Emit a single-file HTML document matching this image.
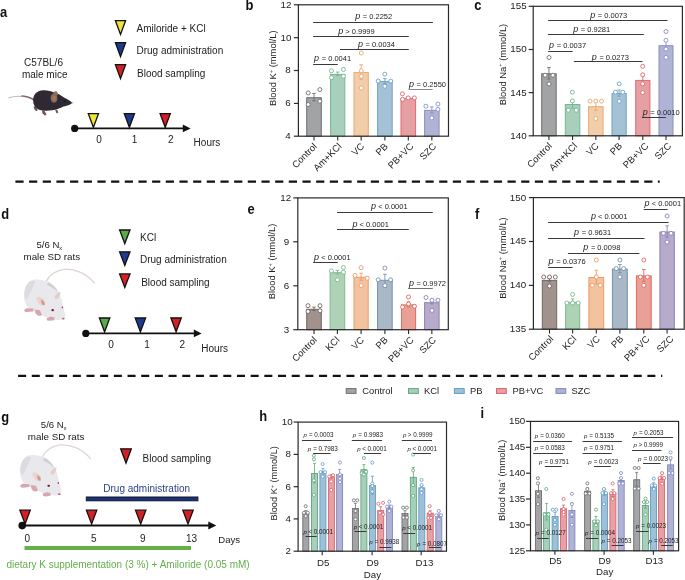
<!DOCTYPE html>
<html><head><meta charset="utf-8"><style>
html,body{margin:0;padding:0;background:#fff;}
body{width:685px;height:580px;overflow:hidden;font-family:"Liberation Sans", sans-serif;}
svg{display:block;will-change:transform;}
</style></head><body>
<svg width="685" height="580" viewBox="0 0 685 580" font-family='"Liberation Sans", sans-serif'>
<rect width="685" height="580" fill="#fff"/>
<line x1="15.4" y1="181.7" x2="662" y2="181.7" stroke="#111" stroke-width="2.3" stroke-dasharray="8.2 5.47"/>
<rect x="659.7" y="176" width="10" height="10" fill="#fff"/>
<line x1="18.1" y1="375.9" x2="665" y2="375.9" stroke="#111" stroke-width="2.3" stroke-dasharray="8.0 5.68"/>
<rect x="662.3" y="370" width="10" height="10" fill="#fff"/>
<text transform="translate(0.1,17.0) scale(0.93,1)" font-size="13.9" font-weight="bold" fill="#111">a</text>
<text x="43.5" y="66.3" font-size="10" text-anchor="middle" fill="#222">C57BL/6</text>
<text x="44.7" y="77.8" font-size="10" text-anchor="middle" fill="#222">male mice</text>
<path d="M115.40,20.60 L125.60,20.60 L120.50,34.40 Z" fill="#f1e43a" stroke="#111" stroke-width="1.3" stroke-linejoin="miter"/>
<path d="M115.40,42.70 L125.60,42.70 L120.50,56.50 Z" fill="#1e3a8c" stroke="#111" stroke-width="1.3" stroke-linejoin="miter"/>
<path d="M115.40,64.70 L125.60,64.70 L120.50,78.50 Z" fill="#d31f26" stroke="#111" stroke-width="1.3" stroke-linejoin="miter"/>
<text x="136.5" y="31.6" font-size="10" fill="#222">Amiloride + KCl</text>
<text x="136.5" y="54.3" font-size="10" fill="#222">Drug administration</text>
<text x="137" y="76.8" font-size="10" fill="#222">Blood sampling</text>
<line x1="74.7" y1="128.4" x2="185" y2="128.4" stroke="#111" stroke-width="1.6"/>
<path d="M182.8,124.6 L190.6,128.4 L182.8,132.2 Z" fill="#111"/>
<circle cx="74.7" cy="128.4" r="3.6" fill="#111"/>
<path d="M88.30,113.70 L98.50,113.70 L93.40,127.30 Z" fill="#f1e43a" stroke="#111" stroke-width="1.3" stroke-linejoin="miter"/>
<path d="M124.30,113.70 L134.50,113.70 L129.40,127.30 Z" fill="#1e3a8c" stroke="#111" stroke-width="1.3" stroke-linejoin="miter"/>
<path d="M160.10,113.70 L170.30,113.70 L165.20,127.30 Z" fill="#d31f26" stroke="#111" stroke-width="1.3" stroke-linejoin="miter"/>
<text x="99" y="142.9" font-size="10" text-anchor="middle" fill="#222">0</text>
<text x="134.6" y="142.9" font-size="10" text-anchor="middle" fill="#222">1</text>
<text x="170.7" y="142.9" font-size="10" text-anchor="middle" fill="#222">2</text>
<text x="193.6" y="145.9" font-size="10" fill="#222">Hours</text>
<g>
<path d="M9,97.8 C16,95.6 24,95.4 33.5,99.6" stroke="#bdb3b3" stroke-width="1.1" fill="none" stroke-linecap="round"/>
<path d="M22,95.9 C27,96.2 30.5,97.4 34,100" stroke="#7c6264" stroke-width="1.3" fill="none" stroke-linecap="round"/>
<path d="M33.6,106.6 L35.6,106.2 L37.8,110.2 L36.2,111.2 L34.2,109 Z" fill="#6f5154"/>
<path d="M42,111 L44.2,110.6 L46.6,114.4 L45,115.4 L42.6,113.6 Z" fill="#6f5154"/>
<path d="M55.2,110 L57.2,109.8 L58.4,112.6 L56.6,113.4 Z" fill="#6f5154"/>
<path d="M33.1,100.5 C33,94 37.5,90.6 43,90.3 C47.5,90.1 51.5,91.3 54.5,92.6 C58,93.6 61,95.4 64,97.6 C67.5,99.4 70,100.8 72.2,102.4 C71.5,104.2 68,105.6 63.5,106.4 C60,108 57,109.6 52,110.3 C47.5,111 42,111 38,109.2 C34.6,107.4 33.2,104.2 33.1,100.5 Z" fill="#2e2933"/>
<path d="M50.6,98 C50.6,94.8 52.2,93.2 54.2,93.4 C56.4,93.8 57.6,96 57.4,99 C57.2,101.2 55.6,102.9 53.8,102.8 C51.8,102.6 50.6,100.6 50.6,98 Z" fill="#8b6a58"/>
<path d="M53.2,93.4 C53.4,91.8 54.8,90.9 56.2,91.3 C57.6,91.8 58.1,93.4 57.7,95.2 C56.6,95.6 54.6,95 53.2,93.4 Z" fill="#927060"/>
<path d="M52.4,97.5 C53,96 54.6,95.6 55.8,96.6 C56.2,98.6 55.4,100.6 54,100.8 C52.8,100.4 52.3,99 52.4,97.5 Z" fill="#9c7a66"/>
<circle cx="64.6" cy="101.3" r="0.8" fill="#0e0c10"/>
<circle cx="71.8" cy="102.8" r="0.7" fill="#8a6a6a"/>
<path d="M72,103 L74,102.2 M72,103.3 L73.8,104.3" stroke="#c8c8c8" stroke-width="0.4"/>
</g>
<text transform="translate(245.4,9.5) scale(0.93,1)" font-size="13.9" font-weight="bold" fill="#111">b</text>
<rect x="306.70" y="97.70" width="14.60" height="38.50" fill="#a1a3a4" stroke="#6d6f70" stroke-width="1.0"/>
<path d="M314.0,93.4 V100.8 M312.2,93.4 H315.8 M312.2,100.8 H315.8" stroke="#6d6f70" stroke-width="0.9" fill="none"/>
<circle cx="308.2" cy="92.9" r="2.0" fill="#fff" stroke="#6d6f70" stroke-width="0.9"/>
<circle cx="319.9" cy="89.6" r="2.0" fill="#fff" stroke="#6d6f70" stroke-width="0.9"/>
<circle cx="319.9" cy="101.2" r="2.0" fill="#fff" stroke="#6d6f70" stroke-width="0.9"/>
<circle cx="308.2" cy="104.5" r="2.0" fill="#fff" stroke="#6d6f70" stroke-width="0.9"/>
<rect x="330.60" y="74.40" width="14.20" height="61.80" fill="#a7cfbc" stroke="#74b795" stroke-width="1.0"/>
<path d="M337.70000000000005,72.1 V75.7 M335.90000000000003,72.1 H339.50000000000006 M335.90000000000003,75.7 H339.50000000000006" stroke="#74b795" stroke-width="0.9" fill="none"/>
<circle cx="331.4" cy="70.8" r="2.0" fill="#fff" stroke="#74b795" stroke-width="0.9"/>
<circle cx="343.4" cy="69.4" r="2.0" fill="#fff" stroke="#74b795" stroke-width="0.9"/>
<circle cx="331.4" cy="77.6" r="2.0" fill="#fff" stroke="#74b795" stroke-width="0.9"/>
<circle cx="343.4" cy="76.3" r="2.0" fill="#fff" stroke="#74b795" stroke-width="0.9"/>
<rect x="354.00" y="72.60" width="14.30" height="63.60" fill="#f1cdaa" stroke="#eda86f" stroke-width="1.0"/>
<path d="M361.15,64.8 V79.4 M359.34999999999997,64.8 H362.95 M359.34999999999997,79.4 H362.95" stroke="#eda86f" stroke-width="0.9" fill="none"/>
<circle cx="361.3" cy="53.0" r="2.0" fill="#fff" stroke="#eda86f" stroke-width="0.9"/>
<circle cx="361.3" cy="70.8" r="2.0" fill="#fff" stroke="#eda86f" stroke-width="0.9"/>
<circle cx="361.3" cy="76.3" r="2.0" fill="#fff" stroke="#eda86f" stroke-width="0.9"/>
<circle cx="361.3" cy="88.0" r="2.0" fill="#fff" stroke="#eda86f" stroke-width="0.9"/>
<rect x="377.60" y="81.60" width="14.60" height="54.60" fill="#a3c2d6" stroke="#6fa2c4" stroke-width="1.0"/>
<path d="M384.9,78.6 V83.6 M383.09999999999997,78.6 H386.7 M383.09999999999997,83.6 H386.7" stroke="#6fa2c4" stroke-width="0.9" fill="none"/>
<circle cx="384.8" cy="74.2" r="2.0" fill="#fff" stroke="#6fa2c4" stroke-width="0.9"/>
<circle cx="378.2" cy="81.1" r="2.0" fill="#fff" stroke="#6fa2c4" stroke-width="0.9"/>
<circle cx="390.8" cy="81.1" r="2.0" fill="#fff" stroke="#6fa2c4" stroke-width="0.9"/>
<circle cx="384.8" cy="86.2" r="2.0" fill="#fff" stroke="#6fa2c4" stroke-width="0.9"/>
<rect x="401.00" y="98.40" width="14.60" height="37.80" fill="#e69fa3" stroke="#de6a70" stroke-width="1.0"/>
<path d="M408.3,96.9 V98.9 M406.5,96.9 H410.1 M406.5,98.9 H410.1" stroke="#de6a70" stroke-width="0.9" fill="none"/>
<circle cx="402.4" cy="93.8" r="2.0" fill="#fff" stroke="#de6a70" stroke-width="0.9"/>
<circle cx="402.6" cy="99.3" r="2.0" fill="#fff" stroke="#de6a70" stroke-width="0.9"/>
<circle cx="408.2" cy="97.9" r="2.0" fill="#fff" stroke="#de6a70" stroke-width="0.9"/>
<circle cx="414.4" cy="97.9" r="2.0" fill="#fff" stroke="#de6a70" stroke-width="0.9"/>
<rect x="424.60" y="110.40" width="14.50" height="25.80" fill="#b0b3d4" stroke="#8a8fc4" stroke-width="1.0"/>
<path d="M431.85,106.9 V112.9 M430.05,106.9 H433.65000000000003 M430.05,112.9 H433.65000000000003" stroke="#8a8fc4" stroke-width="0.9" fill="none"/>
<circle cx="425.9" cy="106.2" r="2.0" fill="#fff" stroke="#8a8fc4" stroke-width="0.9"/>
<circle cx="437.9" cy="104.1" r="2.0" fill="#fff" stroke="#8a8fc4" stroke-width="0.9"/>
<circle cx="437.9" cy="109.4" r="2.0" fill="#fff" stroke="#8a8fc4" stroke-width="0.9"/>
<circle cx="431.8" cy="117.9" r="2.0" fill="#fff" stroke="#8a8fc4" stroke-width="0.9"/>
<rect x="298.4" y="4.8" width="150.10000000000002" height="131.39999999999998" fill="none" stroke="#2a2a2a" stroke-width="1.2"/>
<line x1="293.9" y1="4.8" x2="298.4" y2="4.8" stroke="#2a2a2a" stroke-width="1.2"/>
<text x="291.4" y="7.70" font-size="9.8" text-anchor="end" fill="#222">12</text>
<line x1="293.9" y1="37.7" x2="298.4" y2="37.7" stroke="#2a2a2a" stroke-width="1.2"/>
<text x="291.4" y="40.60" font-size="9.8" text-anchor="end" fill="#222">10</text>
<line x1="293.9" y1="70.5" x2="298.4" y2="70.5" stroke="#2a2a2a" stroke-width="1.2"/>
<text x="290.6" y="73.40" font-size="9.8" text-anchor="end" fill="#222">8</text>
<line x1="293.9" y1="103.4" x2="298.4" y2="103.4" stroke="#2a2a2a" stroke-width="1.2"/>
<text x="290.6" y="106.30" font-size="9.8" text-anchor="end" fill="#222">6</text>
<line x1="293.9" y1="136.2" x2="298.4" y2="136.2" stroke="#2a2a2a" stroke-width="1.2"/>
<text x="290.6" y="139.10" font-size="9.8" text-anchor="end" fill="#222">4</text>
<line x1="314.0" y1="136.2" x2="314.0" y2="140.5" stroke="#2a2a2a" stroke-width="1.1"/>
<line x1="337.70000000000005" y1="136.2" x2="337.70000000000005" y2="140.5" stroke="#2a2a2a" stroke-width="1.1"/>
<line x1="361.15" y1="136.2" x2="361.15" y2="140.5" stroke="#2a2a2a" stroke-width="1.1"/>
<line x1="384.9" y1="136.2" x2="384.9" y2="140.5" stroke="#2a2a2a" stroke-width="1.1"/>
<line x1="408.3" y1="136.2" x2="408.3" y2="140.5" stroke="#2a2a2a" stroke-width="1.1"/>
<line x1="431.85" y1="136.2" x2="431.85" y2="140.5" stroke="#2a2a2a" stroke-width="1.1"/>
<text transform="translate(317.60,147.0) rotate(-45)" font-size="9.5" text-anchor="end" fill="#222">Control</text>
<text transform="translate(342.20,147.0) rotate(-45)" font-size="9.5" text-anchor="end" fill="#222">Am+KCl</text>
<text transform="translate(364.75,147.0) rotate(-45)" font-size="9.5" text-anchor="end" fill="#222">VC</text>
<text transform="translate(388.50,147.0) rotate(-45)" font-size="9.5" text-anchor="end" fill="#222">PB</text>
<text transform="translate(414.00,147.0) rotate(-45)" font-size="9.5" text-anchor="end" fill="#222">PB+VC</text>
<text transform="translate(436.95,147.0) rotate(-45)" font-size="9.5" text-anchor="end" fill="#222">SZC</text>
<text transform="translate(276.4,68.2) rotate(-90)" font-size="9.4" text-anchor="middle" fill="#222">Blood K<tspan font-size="5.64" dy="-3.5">+</tspan><tspan dy="3.5"> (mmol/L)</tspan></text>
<line x1="313.1" y1="22.5" x2="432.9" y2="22.5" stroke="#3a3a3a" stroke-width="1.0"/>
<text x="355.20" y="19.10" fill="#222"><tspan font-style="italic" font-size="9">p</tspan><tspan font-size="7.5" dx="0.5"> = 0.2252</tspan></text>
<line x1="313.1" y1="36.5" x2="408.8" y2="36.5" stroke="#3a3a3a" stroke-width="1.0"/>
<text x="338.20" y="33.80" fill="#222"><tspan font-style="italic" font-size="9">p</tspan><tspan font-size="7.5" dx="0.0"> &gt; 0.9999</tspan></text>
<line x1="340.0" y1="49.5" x2="408.8" y2="49.5" stroke="#3a3a3a" stroke-width="1.0"/>
<text x="357.90" y="47.10" fill="#222"><tspan font-style="italic" font-size="9">p</tspan><tspan font-size="7.5" dx="0.5"> = 0.0034</tspan></text>
<line x1="313.1" y1="64.5" x2="337.7" y2="64.5" stroke="#3a3a3a" stroke-width="1.0"/>
<text x="314.10" y="60.90" fill="#222"><tspan font-style="italic" font-size="9">p</tspan><tspan font-size="7.5" dx="0.5"> = 0.0041</tspan></text>
<line x1="408.5" y1="89.5" x2="432.7" y2="89.5" stroke="#8a8a8a" stroke-width="1.0"/>
<text x="409.00" y="86.70" fill="#222"><tspan font-style="italic" font-size="9">p</tspan><tspan font-size="7.5" dx="0.5"> = 0.2550</tspan></text>
<text transform="translate(474.2,9.9) scale(0.93,1)" font-size="13.9" font-weight="bold" fill="#111">c</text>
<rect x="541.70" y="73.80" width="14.50" height="62.00" fill="#a1a3a4" stroke="#6d6f70" stroke-width="1.0"/>
<path d="M548.95,67.6 V79.0 M547.1500000000001,67.6 H550.75 M547.1500000000001,79.0 H550.75" stroke="#6d6f70" stroke-width="0.9" fill="none"/>
<circle cx="549.0" cy="57.5" r="2.0" fill="#fff" stroke="#6d6f70" stroke-width="0.9"/>
<circle cx="545.1" cy="75.2" r="2.0" fill="#fff" stroke="#6d6f70" stroke-width="0.9"/>
<circle cx="552.9" cy="75.2" r="2.0" fill="#fff" stroke="#6d6f70" stroke-width="0.9"/>
<circle cx="549.0" cy="83.9" r="2.0" fill="#fff" stroke="#6d6f70" stroke-width="0.9"/>
<rect x="565.30" y="104.50" width="14.50" height="31.30" fill="#a7cfbc" stroke="#74b795" stroke-width="1.0"/>
<path d="M572.55,100.0 V108.0 M570.75,100.0 H574.3499999999999 M570.75,108.0 H574.3499999999999" stroke="#74b795" stroke-width="0.9" fill="none"/>
<circle cx="572.4" cy="92.2" r="2.0" fill="#fff" stroke="#74b795" stroke-width="0.9"/>
<circle cx="572.4" cy="100.9" r="2.0" fill="#fff" stroke="#74b795" stroke-width="0.9"/>
<circle cx="568.4" cy="110.2" r="2.0" fill="#fff" stroke="#74b795" stroke-width="0.9"/>
<circle cx="576.2" cy="110.2" r="2.0" fill="#fff" stroke="#74b795" stroke-width="0.9"/>
<rect x="588.60" y="106.70" width="14.50" height="29.10" fill="#f1cdaa" stroke="#eda86f" stroke-width="1.0"/>
<path d="M595.85,102.0 V110.4 M594.0500000000001,102.0 H597.65 M594.0500000000001,110.4 H597.65" stroke="#eda86f" stroke-width="0.9" fill="none"/>
<circle cx="590.1" cy="101.2" r="2.0" fill="#fff" stroke="#eda86f" stroke-width="0.9"/>
<circle cx="595.8" cy="101.2" r="2.0" fill="#fff" stroke="#eda86f" stroke-width="0.9"/>
<circle cx="601.5" cy="101.2" r="2.0" fill="#fff" stroke="#eda86f" stroke-width="0.9"/>
<circle cx="595.8" cy="118.6" r="2.0" fill="#fff" stroke="#eda86f" stroke-width="0.9"/>
<rect x="612.00" y="93.60" width="14.20" height="42.20" fill="#a3c2d6" stroke="#6fa2c4" stroke-width="1.0"/>
<path d="M619.1,90.0 V96.2 M617.3000000000001,90.0 H620.9 M617.3000000000001,96.2 H620.9" stroke="#6fa2c4" stroke-width="0.9" fill="none"/>
<circle cx="619.2" cy="83.8" r="2.0" fill="#fff" stroke="#6fa2c4" stroke-width="0.9"/>
<circle cx="615.5" cy="92.2" r="2.0" fill="#fff" stroke="#6fa2c4" stroke-width="0.9"/>
<circle cx="622.8" cy="92.2" r="2.0" fill="#fff" stroke="#6fa2c4" stroke-width="0.9"/>
<circle cx="619.2" cy="101.2" r="2.0" fill="#fff" stroke="#6fa2c4" stroke-width="0.9"/>
<rect x="635.70" y="80.40" width="14.20" height="55.40" fill="#e69fa3" stroke="#de6a70" stroke-width="1.0"/>
<path d="M642.8,75.6 V84.2 M641.0,75.6 H644.5999999999999 M641.0,84.2 H644.5999999999999" stroke="#de6a70" stroke-width="0.9" fill="none"/>
<circle cx="642.7" cy="66.3" r="2.0" fill="#fff" stroke="#de6a70" stroke-width="0.9"/>
<circle cx="642.7" cy="74.8" r="2.0" fill="#fff" stroke="#de6a70" stroke-width="0.9"/>
<circle cx="642.7" cy="83.8" r="2.0" fill="#fff" stroke="#de6a70" stroke-width="0.9"/>
<circle cx="642.7" cy="92.6" r="2.0" fill="#fff" stroke="#de6a70" stroke-width="0.9"/>
<rect x="659.00" y="45.70" width="14.00" height="90.10" fill="#b0b3d4" stroke="#8a8fc4" stroke-width="1.0"/>
<path d="M666.0,41.2 V49.2 M664.2,41.2 H667.8 M664.2,49.2 H667.8" stroke="#8a8fc4" stroke-width="0.9" fill="none"/>
<circle cx="666.0" cy="31.5" r="2.0" fill="#fff" stroke="#8a8fc4" stroke-width="0.9"/>
<circle cx="666.0" cy="40.3" r="2.0" fill="#fff" stroke="#8a8fc4" stroke-width="0.9"/>
<circle cx="666.0" cy="49.1" r="2.0" fill="#fff" stroke="#8a8fc4" stroke-width="0.9"/>
<circle cx="666.0" cy="57.4" r="2.0" fill="#fff" stroke="#8a8fc4" stroke-width="0.9"/>
<rect x="533.2" y="6.3" width="149.19999999999993" height="129.5" fill="none" stroke="#2a2a2a" stroke-width="1.2"/>
<line x1="528.7" y1="6.3" x2="533.2" y2="6.3" stroke="#2a2a2a" stroke-width="1.2"/>
<text x="526.6" y="9.20" font-size="9.8" text-anchor="end" fill="#222">155</text>
<line x1="528.7" y1="49.5" x2="533.2" y2="49.5" stroke="#2a2a2a" stroke-width="1.2"/>
<text x="526.6" y="52.40" font-size="9.8" text-anchor="end" fill="#222">150</text>
<line x1="528.7" y1="92.6" x2="533.2" y2="92.6" stroke="#2a2a2a" stroke-width="1.2"/>
<text x="526.6" y="95.50" font-size="9.8" text-anchor="end" fill="#222">145</text>
<line x1="528.7" y1="135.8" x2="533.2" y2="135.8" stroke="#2a2a2a" stroke-width="1.2"/>
<text x="526.6" y="138.70" font-size="9.8" text-anchor="end" fill="#222">140</text>
<line x1="548.95" y1="135.8" x2="548.95" y2="140.10000000000002" stroke="#2a2a2a" stroke-width="1.1"/>
<line x1="572.55" y1="135.8" x2="572.55" y2="140.10000000000002" stroke="#2a2a2a" stroke-width="1.1"/>
<line x1="595.85" y1="135.8" x2="595.85" y2="140.10000000000002" stroke="#2a2a2a" stroke-width="1.1"/>
<line x1="619.1" y1="135.8" x2="619.1" y2="140.10000000000002" stroke="#2a2a2a" stroke-width="1.1"/>
<line x1="642.8" y1="135.8" x2="642.8" y2="140.10000000000002" stroke="#2a2a2a" stroke-width="1.1"/>
<line x1="666.0" y1="135.8" x2="666.0" y2="140.10000000000002" stroke="#2a2a2a" stroke-width="1.1"/>
<text transform="translate(552.55,146.6) rotate(-45)" font-size="9.5" text-anchor="end" fill="#222">Control</text>
<text transform="translate(577.85,146.6) rotate(-45)" font-size="9.5" text-anchor="end" fill="#222">Am+KCl</text>
<text transform="translate(599.45,146.6) rotate(-45)" font-size="9.5" text-anchor="end" fill="#222">VC</text>
<text transform="translate(622.70,146.6) rotate(-45)" font-size="9.5" text-anchor="end" fill="#222">PB</text>
<text transform="translate(649.00,146.6) rotate(-45)" font-size="9.5" text-anchor="end" fill="#222">PB+VC</text>
<text transform="translate(671.90,146.6) rotate(-45)" font-size="9.5" text-anchor="end" fill="#222">SZC</text>
<text transform="translate(505.6,64.5) rotate(-90)" font-size="9.4" text-anchor="middle" fill="#222">Blood Na<tspan font-size="5.64" dy="-3.5">+</tspan><tspan dy="3.5"> (mmol/L)</tspan></text>
<line x1="548.1" y1="20.5" x2="667.5" y2="20.5" stroke="#3a3a3a" stroke-width="1.0"/>
<text x="590.20" y="17.80" fill="#222"><tspan font-style="italic" font-size="9">p</tspan><tspan font-size="7.5" dx="0.5"> = 0.0073</tspan></text>
<line x1="548.1" y1="34.5" x2="643.8" y2="34.5" stroke="#3a3a3a" stroke-width="1.0"/>
<text x="573.20" y="31.60" fill="#222"><tspan font-style="italic" font-size="9">p</tspan><tspan font-size="7.5" dx="0.5"> = 0.9281</tspan></text>
<line x1="548.1" y1="51.5" x2="572.7" y2="51.5" stroke="#3a3a3a" stroke-width="1.0"/>
<text x="549.10" y="48.20" fill="#222"><tspan font-style="italic" font-size="9">p</tspan><tspan font-size="7.5" dx="0.5"> = 0.0037</tspan></text>
<line x1="573.8" y1="61.5" x2="642.5" y2="61.5" stroke="#3a3a3a" stroke-width="1.0"/>
<text x="591.80" y="59.60" fill="#222"><tspan font-style="italic" font-size="9">p</tspan><tspan font-size="7.5" dx="0.5"> = 0.0273</tspan></text>
<line x1="641.9" y1="117.5" x2="665.8" y2="117.5" stroke="#3a3a3a" stroke-width="1.0"/>
<text x="642.70" y="114.80" fill="#222"><tspan font-style="italic" font-size="9">p</tspan><tspan font-size="7.5" dx="0.5"> = 0.0010</tspan></text>
<text transform="translate(1.2,218.6) scale(0.93,1)" font-size="13.9" font-weight="bold" fill="#111">d</text>
<text x="49.3" y="248.1" font-size="9.6" text-anchor="middle" fill="#222">5/6 N<tspan font-size="5.6" dy="1.8">x</tspan></text>
<text x="51.8" y="260.2" font-size="9.8" text-anchor="middle" fill="#222">male SD rats</text>
<path d="M119.60,230.00 L130.00,230.00 L124.80,243.60 Z" fill="#5aaa48" stroke="#111" stroke-width="1.3" stroke-linejoin="miter"/>
<path d="M119.60,251.80 L130.00,251.80 L124.80,265.40 Z" fill="#1e3a8c" stroke="#111" stroke-width="1.3" stroke-linejoin="miter"/>
<path d="M119.60,273.90 L130.00,273.90 L124.80,287.50 Z" fill="#d31f26" stroke="#111" stroke-width="1.3" stroke-linejoin="miter"/>
<text x="140" y="241.2" font-size="10" fill="#222">KCl</text>
<text x="140" y="263.0" font-size="10" fill="#222">Drug administration</text>
<text x="141.2" y="285.6" font-size="10" fill="#222">Blood sampling</text>
<line x1="85.8" y1="333.4" x2="196" y2="333.4" stroke="#111" stroke-width="1.6"/>
<path d="M193.8,329.6 L201.6,333.4 L193.8,337.2 Z" fill="#111"/>
<circle cx="85.8" cy="333.4" r="3.6" fill="#111"/>
<path d="M99.40,318.00 L109.80,318.00 L104.60,331.80 Z" fill="#5aaa48" stroke="#111" stroke-width="1.3" stroke-linejoin="miter"/>
<path d="M135.20,318.00 L145.60,318.00 L140.40,331.80 Z" fill="#1e3a8c" stroke="#111" stroke-width="1.3" stroke-linejoin="miter"/>
<path d="M170.90,318.00 L181.30,318.00 L176.10,331.80 Z" fill="#d31f26" stroke="#111" stroke-width="1.3" stroke-linejoin="miter"/>
<text x="111" y="348.1" font-size="10" text-anchor="middle" fill="#222">0</text>
<text x="147" y="348.1" font-size="10" text-anchor="middle" fill="#222">1</text>
<text x="182.3" y="348.1" font-size="10" text-anchor="middle" fill="#222">2</text>
<text x="201.3" y="352.1" font-size="10" fill="#222">Hours</text>
<g>
<path d="M46,281.6 C50,274 56,270.5 64,269.3 C74,268.5 86,273 94.4,283" stroke="#e2d4d0" stroke-width="1.3" fill="none" stroke-linecap="round"/>
<path d="M35.5,279.5 C41,279.3 47,280.5 51,283.3 C55,286 58,290 60,295 C62,301 63.5,308 65.5,315.5 C65.5,318 63.5,319.8 60,320 C54,320 47,318 41,315 C35,312.5 29,310 26,305 C23.5,300 23.6,292 25.5,287 C27.5,282.5 31,279.7 35.5,279.5 Z" fill="#e9e9ed"/>
<path d="M30,281.3 C27,283.5 24.8,288 24.4,293 C24.4,296 25,298.5 26.5,300 C28,297 29.5,294 31,291 C32.5,288 34,285 35.2,281.5 C33.5,280.6 31.5,280.6 30,281.3 Z" fill="#dadce0"/>
<path d="M48,282 C53,284.5 56.5,288 58.5,293 C56,290 52,287 47,285 Z" fill="#cfd1d4"/>
<path d="M24,310.2 L26.5,308.2 L33.8,308.6 L33,311.4 L29,311.8 L25.5,312.2 Z" fill="#d9a6b0"/>
<path d="M34.8,309.4 L39.8,310.2 L42,314.6 L40.4,316 L37.8,315.6 L35.6,313.6 Z" fill="#d9a6b0"/>
<path d="M46.6,318.2 L50.6,316.6 L54.6,317.4 L54.4,320.2 L50,320.8 L47.2,320.4 Z" fill="#d9a6b0"/>
<path d="M36.2,297.4 C39.5,296 43.4,297.8 44.9,301.4 C45.4,304 44.2,305.8 42,305.6 C38.8,304.4 36.6,301.2 36.2,297.4 Z" fill="#ead4cc"/>
<path d="M41,299.5 C43.6,300.4 45,302.5 44.8,305 C43.2,305.5 42,304.7 41.5,303 Z" fill="#c89c91"/>
<path d="M54.5,297 C55.5,294 58.5,292 60.5,291.7 C60.5,294.5 59.5,297.5 57,299 C55.5,299.5 54.5,298.5 54.5,297 Z" fill="#e6cdc5"/>
<ellipse cx="52.7" cy="310.2" rx="1.4" ry="1.1" fill="#8c1c33"/>
<ellipse cx="62.3" cy="307.4" rx="0.6" ry="0.9" fill="#8c1c33"/>
<ellipse cx="63.3" cy="318.6" rx="1.4" ry="0.9" fill="#c26576"/>
</g>
<text transform="translate(247.6,214.4) scale(0.93,1)" font-size="13.9" font-weight="bold" fill="#111">e</text>
<rect x="306.70" y="309.30" width="14.60" height="20.40" fill="#a1928e" stroke="#736663" stroke-width="1.0"/>
<path d="M314.0,307.1 V310.5 M312.2,307.1 H315.8 M312.2,310.5 H315.8" stroke="#736663" stroke-width="0.9" fill="none"/>
<circle cx="308.0" cy="305.7" r="2.0" fill="#fff" stroke="#736663" stroke-width="0.9"/>
<circle cx="320.0" cy="305.7" r="2.0" fill="#fff" stroke="#736663" stroke-width="0.9"/>
<circle cx="308.0" cy="311.5" r="2.0" fill="#fff" stroke="#736663" stroke-width="0.9"/>
<circle cx="320.0" cy="310.8" r="2.0" fill="#fff" stroke="#736663" stroke-width="0.9"/>
<rect x="330.10" y="272.70" width="14.60" height="57.00" fill="#aed2b5" stroke="#7cbb8c" stroke-width="1.0"/>
<path d="M337.4,270.4 V274.0 M335.59999999999997,270.4 H339.2 M335.59999999999997,274.0 H339.2" stroke="#7cbb8c" stroke-width="0.9" fill="none"/>
<circle cx="331.4" cy="270.9" r="2.0" fill="#fff" stroke="#7cbb8c" stroke-width="0.9"/>
<circle cx="343.4" cy="267.4" r="2.0" fill="#fff" stroke="#7cbb8c" stroke-width="0.9"/>
<circle cx="343.4" cy="272.2" r="2.0" fill="#fff" stroke="#7cbb8c" stroke-width="0.9"/>
<circle cx="337.4" cy="279.8" r="2.0" fill="#fff" stroke="#7cbb8c" stroke-width="0.9"/>
<rect x="354.00" y="277.30" width="14.20" height="52.40" fill="#f3c29f" stroke="#ee9a62" stroke-width="1.0"/>
<path d="M361.1,273.2 V280.4 M359.3,273.2 H362.90000000000003 M359.3,280.4 H362.90000000000003" stroke="#ee9a62" stroke-width="0.9" fill="none"/>
<circle cx="361.1" cy="267.7" r="2.0" fill="#fff" stroke="#ee9a62" stroke-width="0.9"/>
<circle cx="355.1" cy="275.4" r="2.0" fill="#fff" stroke="#ee9a62" stroke-width="0.9"/>
<circle cx="367.3" cy="278.2" r="2.0" fill="#fff" stroke="#ee9a62" stroke-width="0.9"/>
<circle cx="361.1" cy="285.6" r="2.0" fill="#fff" stroke="#ee9a62" stroke-width="0.9"/>
<rect x="377.60" y="280.30" width="14.60" height="49.40" fill="#a9b8c7" stroke="#7591ab" stroke-width="1.0"/>
<path d="M384.9,274.3 V285.3 M383.09999999999997,274.3 H386.7 M383.09999999999997,285.3 H386.7" stroke="#7591ab" stroke-width="0.9" fill="none"/>
<circle cx="384.9" cy="268.1" r="2.0" fill="#fff" stroke="#7591ab" stroke-width="0.9"/>
<circle cx="378.2" cy="279.8" r="2.0" fill="#fff" stroke="#7591ab" stroke-width="0.9"/>
<circle cx="390.6" cy="279.8" r="2.0" fill="#fff" stroke="#7591ab" stroke-width="0.9"/>
<circle cx="384.9" cy="285.6" r="2.0" fill="#fff" stroke="#7591ab" stroke-width="0.9"/>
<rect x="401.50" y="304.90" width="14.10" height="24.80" fill="#e9a197" stroke="#dc6b60" stroke-width="1.0"/>
<path d="M408.55,301.9 V306.9 M406.75,301.9 H410.35 M406.75,306.9 H410.35" stroke="#dc6b60" stroke-width="0.9" fill="none"/>
<circle cx="408.5" cy="297.0" r="2.0" fill="#fff" stroke="#dc6b60" stroke-width="0.9"/>
<circle cx="402.6" cy="307.1" r="2.0" fill="#fff" stroke="#dc6b60" stroke-width="0.9"/>
<circle cx="408.5" cy="304.0" r="2.0" fill="#fff" stroke="#dc6b60" stroke-width="0.9"/>
<circle cx="414.5" cy="306.3" r="2.0" fill="#fff" stroke="#dc6b60" stroke-width="0.9"/>
<rect x="424.60" y="302.70" width="14.50" height="27.00" fill="#b6abcb" stroke="#8f80b6" stroke-width="1.0"/>
<path d="M431.85,300.6 V303.8 M430.05,300.6 H433.65000000000003 M430.05,303.8 H433.65000000000003" stroke="#8f80b6" stroke-width="0.9" fill="none"/>
<circle cx="426.0" cy="297.5" r="2.0" fill="#fff" stroke="#8f80b6" stroke-width="0.9"/>
<circle cx="432.0" cy="300.2" r="2.0" fill="#fff" stroke="#8f80b6" stroke-width="0.9"/>
<circle cx="437.9" cy="300.2" r="2.0" fill="#fff" stroke="#8f80b6" stroke-width="0.9"/>
<circle cx="432.0" cy="310.4" r="2.0" fill="#fff" stroke="#8f80b6" stroke-width="0.9"/>
<rect x="297.8" y="197.9" width="150.5" height="131.79999999999998" fill="none" stroke="#2a2a2a" stroke-width="1.2"/>
<line x1="293.3" y1="197.9" x2="297.8" y2="197.9" stroke="#2a2a2a" stroke-width="1.2"/>
<text x="291.2" y="200.80" font-size="9.8" text-anchor="end" fill="#222">12</text>
<line x1="293.3" y1="241.8" x2="297.8" y2="241.8" stroke="#2a2a2a" stroke-width="1.2"/>
<text x="289.2" y="244.70" font-size="9.8" text-anchor="end" fill="#222">9</text>
<line x1="293.3" y1="285.8" x2="297.8" y2="285.8" stroke="#2a2a2a" stroke-width="1.2"/>
<text x="289.2" y="288.70" font-size="9.8" text-anchor="end" fill="#222">6</text>
<line x1="293.3" y1="329.7" x2="297.8" y2="329.7" stroke="#2a2a2a" stroke-width="1.2"/>
<text x="289.2" y="332.60" font-size="9.8" text-anchor="end" fill="#222">3</text>
<line x1="314.0" y1="329.7" x2="314.0" y2="334.0" stroke="#2a2a2a" stroke-width="1.1"/>
<line x1="337.4" y1="329.7" x2="337.4" y2="334.0" stroke="#2a2a2a" stroke-width="1.1"/>
<line x1="361.1" y1="329.7" x2="361.1" y2="334.0" stroke="#2a2a2a" stroke-width="1.1"/>
<line x1="384.9" y1="329.7" x2="384.9" y2="334.0" stroke="#2a2a2a" stroke-width="1.1"/>
<line x1="408.55" y1="329.7" x2="408.55" y2="334.0" stroke="#2a2a2a" stroke-width="1.1"/>
<line x1="431.85" y1="329.7" x2="431.85" y2="334.0" stroke="#2a2a2a" stroke-width="1.1"/>
<text transform="translate(317.60,340.6) rotate(-45)" font-size="9.5" text-anchor="end" fill="#222">Control</text>
<text transform="translate(340.20,340.6) rotate(-45)" font-size="9.5" text-anchor="end" fill="#222">KCl</text>
<text transform="translate(364.70,340.6) rotate(-45)" font-size="9.5" text-anchor="end" fill="#222">VC</text>
<text transform="translate(388.50,340.6) rotate(-45)" font-size="9.5" text-anchor="end" fill="#222">PB</text>
<text transform="translate(414.25,340.6) rotate(-45)" font-size="9.5" text-anchor="end" fill="#222">PB+VC</text>
<text transform="translate(436.65,340.6) rotate(-45)" font-size="9.5" text-anchor="end" fill="#222">SZC</text>
<text transform="translate(275.2,261.5) rotate(-90)" font-size="9.4" text-anchor="middle" fill="#222">Blood K<tspan font-size="5.64" dy="-3.5">+</tspan><tspan dy="3.5"> (mmol/L)</tspan></text>
<line x1="337.0" y1="212.5" x2="432.8" y2="212.5" stroke="#3a3a3a" stroke-width="1.0"/>
<text x="371.10" y="209.40" fill="#222"><tspan font-style="italic" font-size="9">p</tspan><tspan font-size="7.5" dx="0.0"> &lt; 0.0001</tspan></text>
<line x1="337.0" y1="229.5" x2="408.8" y2="229.5" stroke="#3a3a3a" stroke-width="1.0"/>
<text x="352.40" y="226.80" fill="#222"><tspan font-style="italic" font-size="9">p</tspan><tspan font-size="7.5" dx="0.0"> &lt; 0.0001</tspan></text>
<line x1="313.2" y1="262.5" x2="337.8" y2="262.5" stroke="#3a3a3a" stroke-width="1.0"/>
<text x="314.10" y="260.10" fill="#222"><tspan font-style="italic" font-size="9">p</tspan><tspan font-size="7.5" dx="0.0"> &lt; 0.0001</tspan></text>
<line x1="408.1" y1="288.5" x2="432.7" y2="288.5" stroke="#707070" stroke-width="1.0"/>
<text x="409.00" y="285.50" fill="#222"><tspan font-style="italic" font-size="9">p</tspan><tspan font-size="7.5" dx="0.5"> = 0.9972</tspan></text>
<text transform="translate(475.0,219.2) scale(0.93,1)" font-size="13.9" font-weight="bold" fill="#111">f</text>
<rect x="542.30" y="280.40" width="14.40" height="48.80" fill="#a1928e" stroke="#736663" stroke-width="1.0"/>
<path d="M549.5,278.6 V281.2 M547.7,278.6 H551.3 M547.7,281.2 H551.3" stroke="#736663" stroke-width="0.9" fill="none"/>
<circle cx="543.7" cy="277.0" r="2.0" fill="#fff" stroke="#736663" stroke-width="0.9"/>
<circle cx="549.5" cy="277.0" r="2.0" fill="#fff" stroke="#736663" stroke-width="0.9"/>
<circle cx="555.3" cy="277.0" r="2.0" fill="#fff" stroke="#736663" stroke-width="0.9"/>
<circle cx="549.5" cy="286.0" r="2.0" fill="#fff" stroke="#736663" stroke-width="0.9"/>
<rect x="565.60" y="302.40" width="14.10" height="26.80" fill="#aed2b5" stroke="#7cbb8c" stroke-width="1.0"/>
<path d="M572.6500000000001,298.9 V304.9 M570.8500000000001,298.9 H574.45 M570.8500000000001,304.9 H574.45" stroke="#7cbb8c" stroke-width="0.9" fill="none"/>
<circle cx="572.6" cy="294.4" r="2.0" fill="#fff" stroke="#7cbb8c" stroke-width="0.9"/>
<circle cx="566.9" cy="303.0" r="2.0" fill="#fff" stroke="#7cbb8c" stroke-width="0.9"/>
<circle cx="572.6" cy="303.0" r="2.0" fill="#fff" stroke="#7cbb8c" stroke-width="0.9"/>
<circle cx="578.2" cy="303.0" r="2.0" fill="#fff" stroke="#7cbb8c" stroke-width="0.9"/>
<rect x="588.90" y="277.50" width="14.80" height="51.70" fill="#f3c29f" stroke="#ee9a62" stroke-width="1.0"/>
<path d="M596.3,270.2 V283.8 M594.5,270.2 H598.0999999999999 M594.5,283.8 H598.0999999999999" stroke="#ee9a62" stroke-width="0.9" fill="none"/>
<circle cx="596.3" cy="260.0" r="2.0" fill="#fff" stroke="#ee9a62" stroke-width="0.9"/>
<circle cx="596.3" cy="277.0" r="2.0" fill="#fff" stroke="#ee9a62" stroke-width="0.9"/>
<circle cx="592.3" cy="285.3" r="2.0" fill="#fff" stroke="#ee9a62" stroke-width="0.9"/>
<circle cx="600.3" cy="285.3" r="2.0" fill="#fff" stroke="#ee9a62" stroke-width="0.9"/>
<rect x="612.40" y="269.10" width="14.90" height="60.10" fill="#a9b8c7" stroke="#7591ab" stroke-width="1.0"/>
<path d="M619.8499999999999,264.5 V272.7 M618.05,264.5 H621.6499999999999 M618.05,272.7 H621.6499999999999" stroke="#7591ab" stroke-width="0.9" fill="none"/>
<circle cx="619.9" cy="260.0" r="2.0" fill="#fff" stroke="#7591ab" stroke-width="0.9"/>
<circle cx="616.3" cy="268.6" r="2.0" fill="#fff" stroke="#7591ab" stroke-width="0.9"/>
<circle cx="623.6" cy="268.6" r="2.0" fill="#fff" stroke="#7591ab" stroke-width="0.9"/>
<circle cx="619.9" cy="277.0" r="2.0" fill="#fff" stroke="#7591ab" stroke-width="0.9"/>
<rect x="636.40" y="275.90" width="14.80" height="53.30" fill="#e9a197" stroke="#dc6b60" stroke-width="1.0"/>
<path d="M643.8,269.5 V281.3 M642.0,269.5 H645.5999999999999 M642.0,281.3 H645.5999999999999" stroke="#dc6b60" stroke-width="0.9" fill="none"/>
<circle cx="643.8" cy="260.0" r="2.0" fill="#fff" stroke="#dc6b60" stroke-width="0.9"/>
<circle cx="640.4" cy="277.0" r="2.0" fill="#fff" stroke="#dc6b60" stroke-width="0.9"/>
<circle cx="647.4" cy="277.0" r="2.0" fill="#fff" stroke="#dc6b60" stroke-width="0.9"/>
<circle cx="643.8" cy="285.3" r="2.0" fill="#fff" stroke="#dc6b60" stroke-width="0.9"/>
<rect x="659.90" y="232.00" width="14.40" height="97.20" fill="#b6abcb" stroke="#8f80b6" stroke-width="1.0"/>
<path d="M667.0999999999999,225.8 V237.2 M665.3,225.8 H668.8999999999999 M665.3,237.2 H668.8999999999999" stroke="#8f80b6" stroke-width="0.9" fill="none"/>
<circle cx="667.1" cy="216.0" r="2.0" fill="#fff" stroke="#8f80b6" stroke-width="0.9"/>
<circle cx="663.4" cy="233.3" r="2.0" fill="#fff" stroke="#8f80b6" stroke-width="0.9"/>
<circle cx="671.0" cy="233.3" r="2.0" fill="#fff" stroke="#8f80b6" stroke-width="0.9"/>
<circle cx="667.1" cy="242.1" r="2.0" fill="#fff" stroke="#8f80b6" stroke-width="0.9"/>
<rect x="533.4" y="197.6" width="150.80000000000007" height="131.6" fill="none" stroke="#2a2a2a" stroke-width="1.2"/>
<line x1="528.9" y1="197.6" x2="533.4" y2="197.6" stroke="#2a2a2a" stroke-width="1.2"/>
<text x="526.1" y="200.50" font-size="9.8" text-anchor="end" fill="#222">150</text>
<line x1="528.9" y1="241.5" x2="533.4" y2="241.5" stroke="#2a2a2a" stroke-width="1.2"/>
<text x="526.1" y="244.40" font-size="9.8" text-anchor="end" fill="#222">145</text>
<line x1="528.9" y1="285.4" x2="533.4" y2="285.4" stroke="#2a2a2a" stroke-width="1.2"/>
<text x="526.1" y="288.30" font-size="9.8" text-anchor="end" fill="#222">140</text>
<line x1="528.9" y1="329.2" x2="533.4" y2="329.2" stroke="#2a2a2a" stroke-width="1.2"/>
<text x="526.1" y="332.10" font-size="9.8" text-anchor="end" fill="#222">135</text>
<line x1="549.5" y1="329.2" x2="549.5" y2="333.5" stroke="#2a2a2a" stroke-width="1.1"/>
<line x1="572.6500000000001" y1="329.2" x2="572.6500000000001" y2="333.5" stroke="#2a2a2a" stroke-width="1.1"/>
<line x1="596.3" y1="329.2" x2="596.3" y2="333.5" stroke="#2a2a2a" stroke-width="1.1"/>
<line x1="619.8499999999999" y1="329.2" x2="619.8499999999999" y2="333.5" stroke="#2a2a2a" stroke-width="1.1"/>
<line x1="643.8" y1="329.2" x2="643.8" y2="333.5" stroke="#2a2a2a" stroke-width="1.1"/>
<line x1="667.0999999999999" y1="329.2" x2="667.0999999999999" y2="333.5" stroke="#2a2a2a" stroke-width="1.1"/>
<text transform="translate(553.90,339.6) rotate(-45)" font-size="9.5" text-anchor="end" fill="#222">Control</text>
<text transform="translate(577.05,339.6) rotate(-45)" font-size="9.5" text-anchor="end" fill="#222">KCl</text>
<text transform="translate(600.50,339.6) rotate(-45)" font-size="9.5" text-anchor="end" fill="#222">VC</text>
<text transform="translate(624.05,339.6) rotate(-45)" font-size="9.5" text-anchor="end" fill="#222">PB</text>
<text transform="translate(650.10,339.6) rotate(-45)" font-size="9.5" text-anchor="end" fill="#222">PB+VC</text>
<text transform="translate(674.00,339.6) rotate(-45)" font-size="9.5" text-anchor="end" fill="#222">SZC</text>
<text transform="translate(505.6,258.0) rotate(-90)" font-size="9.4" text-anchor="middle" fill="#222">Blood Na<tspan font-size="5.64" dy="-3.5">+</tspan><tspan dy="3.5"> (mmol/L)</tspan></text>
<line x1="643.7" y1="209.5" x2="667.6" y2="209.5" stroke="#3a3a3a" stroke-width="1.0"/>
<text x="644.60" y="206.40" fill="#222"><tspan font-style="italic" font-size="9">p</tspan><tspan font-size="7.5" dx="0.0"> &lt; 0.0001</tspan></text>
<line x1="548.1" y1="222.5" x2="668.6" y2="222.5" stroke="#3a3a3a" stroke-width="1.0"/>
<text x="590.90" y="219.10" fill="#222"><tspan font-style="italic" font-size="9">p</tspan><tspan font-size="7.5" dx="0.0"> &lt; 0.0001</tspan></text>
<line x1="548.1" y1="238.5" x2="644.5" y2="238.5" stroke="#3a3a3a" stroke-width="1.0"/>
<text x="574.10" y="234.80" fill="#222"><tspan font-style="italic" font-size="9">p</tspan><tspan font-size="7.5" dx="0.5"> = 0.9631</tspan></text>
<line x1="567.9" y1="253.5" x2="639.4" y2="253.5" stroke="#3a3a3a" stroke-width="1.0"/>
<text x="583.30" y="250.20" fill="#222"><tspan font-style="italic" font-size="9">p</tspan><tspan font-size="7.5" dx="0.5"> = 0.0098</tspan></text>
<line x1="548.1" y1="267.5" x2="572.6" y2="267.5" stroke="#3a3a3a" stroke-width="1.0"/>
<text x="548.60" y="263.70" fill="#222"><tspan font-style="italic" font-size="9">p</tspan><tspan font-size="7.5" dx="0.5"> = 0.0376</tspan></text>
<text transform="translate(1.3,422.3) scale(0.93,1)" font-size="13.9" font-weight="bold" fill="#111">g</text>
<text x="53.7" y="428.0" font-size="9.6" text-anchor="middle" fill="#222">5/6 N<tspan font-size="5.6" dy="1.8">x</tspan></text>
<text x="56.1" y="440.2" font-size="9.8" text-anchor="middle" fill="#222">male SD rats</text>
<g transform="translate(-4,175.6)">
<path d="M46,281.6 C50,274 56,270.5 64,269.3 C74,268.5 86,273 94.4,283" stroke="#e2d4d0" stroke-width="1.3" fill="none" stroke-linecap="round"/>
<path d="M35.5,279.5 C41,279.3 47,280.5 51,283.3 C55,286 58,290 60,295 C62,301 63.5,308 65.5,315.5 C65.5,318 63.5,319.8 60,320 C54,320 47,318 41,315 C35,312.5 29,310 26,305 C23.5,300 23.6,292 25.5,287 C27.5,282.5 31,279.7 35.5,279.5 Z" fill="#e9e9ed"/>
<path d="M30,281.3 C27,283.5 24.8,288 24.4,293 C24.4,296 25,298.5 26.5,300 C28,297 29.5,294 31,291 C32.5,288 34,285 35.2,281.5 C33.5,280.6 31.5,280.6 30,281.3 Z" fill="#dadce0"/>
<path d="M48,282 C53,284.5 56.5,288 58.5,293 C56,290 52,287 47,285 Z" fill="#cfd1d4"/>
<path d="M24,310.2 L26.5,308.2 L33.8,308.6 L33,311.4 L29,311.8 L25.5,312.2 Z" fill="#d9a6b0"/>
<path d="M34.8,309.4 L39.8,310.2 L42,314.6 L40.4,316 L37.8,315.6 L35.6,313.6 Z" fill="#d9a6b0"/>
<path d="M46.6,318.2 L50.6,316.6 L54.6,317.4 L54.4,320.2 L50,320.8 L47.2,320.4 Z" fill="#d9a6b0"/>
<path d="M36.2,297.4 C39.5,296 43.4,297.8 44.9,301.4 C45.4,304 44.2,305.8 42,305.6 C38.8,304.4 36.6,301.2 36.2,297.4 Z" fill="#ead4cc"/>
<path d="M41,299.5 C43.6,300.4 45,302.5 44.8,305 C43.2,305.5 42,304.7 41.5,303 Z" fill="#c89c91"/>
<path d="M54.5,297 C55.5,294 58.5,292 60.5,291.7 C60.5,294.5 59.5,297.5 57,299 C55.5,299.5 54.5,298.5 54.5,297 Z" fill="#e6cdc5"/>
<ellipse cx="52.7" cy="310.2" rx="1.4" ry="1.1" fill="#8c1c33"/>
<ellipse cx="62.3" cy="307.4" rx="0.6" ry="0.9" fill="#8c1c33"/>
<ellipse cx="63.3" cy="318.6" rx="1.4" ry="0.9" fill="#c26576"/>
</g>
<path d="M120.70,448.80 L131.30,448.80 L126.00,463.20 Z" fill="#d31f26" stroke="#111" stroke-width="1.3" stroke-linejoin="miter"/>
<text x="142.6" y="461.5" font-size="10" fill="#222">Blood sampling</text>
<text x="103.3" y="492.2" font-size="10" fill="#2a3f86">Drug administration</text>
<rect x="86.3" y="497.0" width="111.6" height="3.8" fill="#1d3070" stroke="#0f1738" stroke-width="1"/>
<line x1="22" y1="525.5" x2="210" y2="525.5" stroke="#111" stroke-width="1.8"/>
<path d="M208.3,521.5 L216.3,525.5 L208.3,529.5 Z" fill="#111"/>
<circle cx="22.2" cy="525.6" r="3.8" fill="#111"/>
<path d="M19.90,510.20 L30.30,510.20 L25.10,524.00 Z" fill="#d31f26" stroke="#111" stroke-width="1.3" stroke-linejoin="miter"/>
<path d="M86.40,510.20 L96.80,510.20 L91.60,524.00 Z" fill="#d31f26" stroke="#111" stroke-width="1.3" stroke-linejoin="miter"/>
<path d="M135.50,510.20 L145.90,510.20 L140.70,524.00 Z" fill="#d31f26" stroke="#111" stroke-width="1.3" stroke-linejoin="miter"/>
<path d="M182.80,510.20 L193.20,510.20 L188.00,524.00 Z" fill="#d31f26" stroke="#111" stroke-width="1.3" stroke-linejoin="miter"/>
<text x="27.4" y="542.1" font-size="10" text-anchor="middle" fill="#222">0</text>
<text x="93.7" y="542.1" font-size="10" text-anchor="middle" fill="#222">5</text>
<text x="142.7" y="542.1" font-size="10" text-anchor="middle" fill="#222">9</text>
<text x="191.6" y="542.1" font-size="10" text-anchor="middle" fill="#222">13</text>
<text x="218.3" y="542.9" font-size="9.6" fill="#222">Days</text>
<rect x="24.5" y="546" width="166.5" height="4" fill="#66b04a"/>
<text x="6.5" y="567.5" font-size="10" fill="#63af49">dietary K supplementation (3 %) + Amiloride (0.05 mM)</text>
<rect x="346.2" y="388.6" width="9.8" height="4.8" fill="#a3a4a5" stroke="#6e6f70" stroke-width="1"/>
<text x="362.3" y="393.9" font-size="9.4" fill="#222">Control</text>
<rect x="408.5" y="388.6" width="9.8" height="4.8" fill="#a8cfbb" stroke="#5ea77f" stroke-width="1"/>
<text x="423.9" y="393.9" font-size="9.4" fill="#222">KCl</text>
<rect x="454.4" y="388.6" width="9.8" height="4.8" fill="#9fc1d7" stroke="#5f9bc4" stroke-width="1"/>
<text x="470.1" y="393.9" font-size="9.4" fill="#222">PB</text>
<rect x="496.5" y="388.6" width="9.8" height="4.8" fill="#e7a0a3" stroke="#d9636b" stroke-width="1"/>
<text x="512.4" y="393.9" font-size="9.4" fill="#222">PB+VC</text>
<rect x="556.0" y="388.6" width="9.8" height="4.8" fill="#b0b3d4" stroke="#8088bf" stroke-width="1"/>
<text x="571.5" y="393.9" font-size="9.4" fill="#222">SZC</text>
<text transform="translate(259.2,420.5) scale(0.93,1)" font-size="13.9" font-weight="bold" fill="#111">h</text>
<rect x="302.80" y="513.55" width="6.00" height="37.65" fill="#a3a4a5" stroke="#6e6f70" stroke-width="0.9"/>
<path d="M305.8,510.6 V515.6 M304.3,510.6 H307.3 M304.3,515.6 H307.3" stroke="#6e6f70" stroke-width="0.8" fill="none"/>
<circle cx="305.7" cy="506.2" r="1.55" fill="#fff" stroke="#6e6f70" stroke-width="0.8"/>
<circle cx="304.0" cy="512.8" r="1.55" fill="#fff" stroke="#6e6f70" stroke-width="0.8"/>
<circle cx="307.7" cy="512.8" r="1.55" fill="#fff" stroke="#6e6f70" stroke-width="0.8"/>
<circle cx="305.7" cy="516.1" r="1.55" fill="#fff" stroke="#6e6f70" stroke-width="0.8"/>
<rect x="311.50" y="473.55" width="6.00" height="77.65" fill="#a8cfbb" stroke="#5ea77f" stroke-width="0.9"/>
<path d="M314.5,463.4 V482.8 M313.0,463.4 H316.0 M313.0,482.8 H316.0" stroke="#5ea77f" stroke-width="0.8" fill="none"/>
<circle cx="313.9" cy="455.6" r="1.55" fill="#fff" stroke="#5ea77f" stroke-width="0.8"/>
<circle cx="313.9" cy="459.3" r="1.55" fill="#fff" stroke="#5ea77f" stroke-width="0.8"/>
<circle cx="313.9" cy="480.4" r="1.55" fill="#fff" stroke="#5ea77f" stroke-width="0.8"/>
<circle cx="313.9" cy="494.9" r="1.55" fill="#fff" stroke="#5ea77f" stroke-width="0.8"/>
<rect x="319.90" y="471.75" width="6.00" height="79.45" fill="#9fc1d7" stroke="#5f9bc4" stroke-width="0.9"/>
<path d="M322.9,468.6 V474.0 M321.4,468.6 H324.4 M321.4,474.0 H324.4" stroke="#5f9bc4" stroke-width="0.8" fill="none"/>
<circle cx="322.6" cy="464.1" r="1.55" fill="#fff" stroke="#5f9bc4" stroke-width="0.8"/>
<circle cx="320.6" cy="472.1" r="1.55" fill="#fff" stroke="#5f9bc4" stroke-width="0.8"/>
<circle cx="325.0" cy="472.1" r="1.55" fill="#fff" stroke="#5f9bc4" stroke-width="0.8"/>
<circle cx="322.6" cy="476.6" r="1.55" fill="#fff" stroke="#5f9bc4" stroke-width="0.8"/>
<rect x="328.40" y="476.75" width="6.00" height="74.45" fill="#e7a0a3" stroke="#d9636b" stroke-width="0.9"/>
<path d="M331.4,474.5 V478.1 M329.9,474.5 H332.9 M329.9,478.1 H332.9" stroke="#d9636b" stroke-width="0.8" fill="none"/>
<circle cx="329.2" cy="476.6" r="1.55" fill="#fff" stroke="#d9636b" stroke-width="0.8"/>
<circle cx="333.1" cy="475.2" r="1.55" fill="#fff" stroke="#d9636b" stroke-width="0.8"/>
<circle cx="331.2" cy="481.4" r="1.55" fill="#fff" stroke="#d9636b" stroke-width="0.8"/>
<circle cx="331.2" cy="490.0" r="1.55" fill="#fff" stroke="#d9636b" stroke-width="0.8"/>
<rect x="336.60" y="474.55" width="6.00" height="76.65" fill="#b0b3d4" stroke="#8088bf" stroke-width="0.9"/>
<path d="M339.6,469.4 V478.8 M338.1,469.4 H341.1 M338.1,478.8 H341.1" stroke="#8088bf" stroke-width="0.8" fill="none"/>
<circle cx="339.9" cy="462.5" r="1.55" fill="#fff" stroke="#8088bf" stroke-width="0.8"/>
<circle cx="339.9" cy="474.5" r="1.55" fill="#fff" stroke="#8088bf" stroke-width="0.8"/>
<circle cx="339.9" cy="478.6" r="1.55" fill="#fff" stroke="#8088bf" stroke-width="0.8"/>
<circle cx="339.9" cy="482.1" r="1.55" fill="#fff" stroke="#8088bf" stroke-width="0.8"/>
<rect x="352.40" y="508.55" width="6.00" height="42.65" fill="#a3a4a5" stroke="#6e6f70" stroke-width="0.9"/>
<path d="M355.4,503.3 V512.9 M353.9,503.3 H356.9 M353.9,512.9 H356.9" stroke="#6e6f70" stroke-width="0.8" fill="none"/>
<circle cx="353.8" cy="500.3" r="1.55" fill="#fff" stroke="#6e6f70" stroke-width="0.8"/>
<circle cx="357.2" cy="500.3" r="1.55" fill="#fff" stroke="#6e6f70" stroke-width="0.8"/>
<circle cx="355.5" cy="511.0" r="1.55" fill="#fff" stroke="#6e6f70" stroke-width="0.8"/>
<circle cx="355.5" cy="519.3" r="1.55" fill="#fff" stroke="#6e6f70" stroke-width="0.8"/>
<rect x="360.90" y="469.65" width="6.00" height="81.55" fill="#a8cfbb" stroke="#5ea77f" stroke-width="0.9"/>
<path d="M363.9,464.6 V473.8 M362.4,464.6 H365.4 M362.4,473.8 H365.4" stroke="#5ea77f" stroke-width="0.8" fill="none"/>
<circle cx="363.9" cy="458.0" r="1.55" fill="#fff" stroke="#5ea77f" stroke-width="0.8"/>
<circle cx="361.7" cy="473.3" r="1.55" fill="#fff" stroke="#5ea77f" stroke-width="0.8"/>
<circle cx="366.1" cy="471.8" r="1.55" fill="#fff" stroke="#5ea77f" stroke-width="0.8"/>
<circle cx="363.9" cy="474.5" r="1.55" fill="#fff" stroke="#5ea77f" stroke-width="0.8"/>
<rect x="369.40" y="485.55" width="6.00" height="65.65" fill="#9fc1d7" stroke="#5f9bc4" stroke-width="0.9"/>
<path d="M372.4,476.2 V494.0 M370.9,476.2 H373.9 M370.9,494.0 H373.9" stroke="#5f9bc4" stroke-width="0.8" fill="none"/>
<circle cx="372.3" cy="462.6" r="1.55" fill="#fff" stroke="#5f9bc4" stroke-width="0.8"/>
<circle cx="372.3" cy="483.5" r="1.55" fill="#fff" stroke="#5f9bc4" stroke-width="0.8"/>
<circle cx="372.3" cy="491.5" r="1.55" fill="#fff" stroke="#5f9bc4" stroke-width="0.8"/>
<circle cx="372.3" cy="486.0" r="1.55" fill="#fff" stroke="#5f9bc4" stroke-width="0.8"/>
<rect x="377.70" y="510.65" width="6.00" height="40.55" fill="#e7a0a3" stroke="#d9636b" stroke-width="0.9"/>
<path d="M380.7,506.7 V513.7 M379.2,506.7 H382.2 M379.2,513.7 H382.2" stroke="#d9636b" stroke-width="0.8" fill="none"/>
<circle cx="378.4" cy="503.8" r="1.55" fill="#fff" stroke="#d9636b" stroke-width="0.8"/>
<circle cx="383.1" cy="502.8" r="1.55" fill="#fff" stroke="#d9636b" stroke-width="0.8"/>
<circle cx="379.7" cy="512.8" r="1.55" fill="#fff" stroke="#d9636b" stroke-width="0.8"/>
<circle cx="383.1" cy="514.5" r="1.55" fill="#fff" stroke="#d9636b" stroke-width="0.8"/>
<rect x="386.40" y="507.15" width="6.00" height="44.05" fill="#b0b3d4" stroke="#8088bf" stroke-width="0.9"/>
<path d="M389.4,505.0 V508.4 M387.9,505.0 H390.9 M387.9,508.4 H390.9" stroke="#8088bf" stroke-width="0.8" fill="none"/>
<circle cx="389.3" cy="501.6" r="1.55" fill="#fff" stroke="#8088bf" stroke-width="0.8"/>
<circle cx="387.1" cy="506.7" r="1.55" fill="#fff" stroke="#8088bf" stroke-width="0.8"/>
<circle cx="391.4" cy="506.7" r="1.55" fill="#fff" stroke="#8088bf" stroke-width="0.8"/>
<circle cx="389.3" cy="511.0" r="1.55" fill="#fff" stroke="#8088bf" stroke-width="0.8"/>
<rect x="402.00" y="513.55" width="6.00" height="37.65" fill="#a3a4a5" stroke="#6e6f70" stroke-width="0.9"/>
<path d="M405.0,510.7 V515.5 M403.5,510.7 H406.5 M403.5,515.5 H406.5" stroke="#6e6f70" stroke-width="0.8" fill="none"/>
<circle cx="403.1" cy="507.6" r="1.55" fill="#fff" stroke="#6e6f70" stroke-width="0.8"/>
<circle cx="406.9" cy="507.6" r="1.55" fill="#fff" stroke="#6e6f70" stroke-width="0.8"/>
<circle cx="403.4" cy="517.6" r="1.55" fill="#fff" stroke="#6e6f70" stroke-width="0.8"/>
<circle cx="406.9" cy="517.6" r="1.55" fill="#fff" stroke="#6e6f70" stroke-width="0.8"/>
<rect x="410.40" y="477.35" width="6.00" height="73.85" fill="#a8cfbb" stroke="#5ea77f" stroke-width="0.9"/>
<path d="M413.4,467.4 V486.4 M411.9,467.4 H414.9 M411.9,486.4 H414.9" stroke="#5ea77f" stroke-width="0.8" fill="none"/>
<circle cx="413.1" cy="454.6" r="1.55" fill="#fff" stroke="#5ea77f" stroke-width="0.8"/>
<circle cx="413.1" cy="470.4" r="1.55" fill="#fff" stroke="#5ea77f" stroke-width="0.8"/>
<circle cx="413.1" cy="485.0" r="1.55" fill="#fff" stroke="#5ea77f" stroke-width="0.8"/>
<circle cx="413.1" cy="495.9" r="1.55" fill="#fff" stroke="#5ea77f" stroke-width="0.8"/>
<rect x="418.80" y="487.85" width="6.00" height="63.35" fill="#9fc1d7" stroke="#5f9bc4" stroke-width="0.9"/>
<path d="M421.8,485.7 V489.1 M420.3,485.7 H423.3 M420.3,489.1 H423.3" stroke="#5f9bc4" stroke-width="0.8" fill="none"/>
<circle cx="421.5" cy="479.9" r="1.55" fill="#fff" stroke="#5f9bc4" stroke-width="0.8"/>
<circle cx="421.5" cy="485.0" r="1.55" fill="#fff" stroke="#5f9bc4" stroke-width="0.8"/>
<circle cx="421.5" cy="489.3" r="1.55" fill="#fff" stroke="#5f9bc4" stroke-width="0.8"/>
<circle cx="421.5" cy="493.0" r="1.55" fill="#fff" stroke="#5f9bc4" stroke-width="0.8"/>
<rect x="427.20" y="513.25" width="6.00" height="37.95" fill="#e7a0a3" stroke="#d9636b" stroke-width="0.9"/>
<path d="M430.2,510.8 V514.8 M428.7,510.8 H431.7 M428.7,514.8 H431.7" stroke="#d9636b" stroke-width="0.8" fill="none"/>
<circle cx="429.7" cy="506.2" r="1.55" fill="#fff" stroke="#d9636b" stroke-width="0.8"/>
<circle cx="429.7" cy="512.8" r="1.55" fill="#fff" stroke="#d9636b" stroke-width="0.8"/>
<circle cx="428.4" cy="517.9" r="1.55" fill="#fff" stroke="#d9636b" stroke-width="0.8"/>
<circle cx="431.0" cy="517.9" r="1.55" fill="#fff" stroke="#d9636b" stroke-width="0.8"/>
<rect x="435.80" y="515.75" width="6.00" height="35.45" fill="#b0b3d4" stroke="#8088bf" stroke-width="0.9"/>
<path d="M438.8,513.9 V516.7 M437.3,513.9 H440.3 M437.3,516.7 H440.3" stroke="#8088bf" stroke-width="0.8" fill="none"/>
<circle cx="438.8" cy="511.0" r="1.55" fill="#fff" stroke="#8088bf" stroke-width="0.8"/>
<circle cx="436.2" cy="515.3" r="1.55" fill="#fff" stroke="#8088bf" stroke-width="0.8"/>
<circle cx="441.0" cy="515.3" r="1.55" fill="#fff" stroke="#8088bf" stroke-width="0.8"/>
<circle cx="438.8" cy="519.3" r="1.55" fill="#fff" stroke="#8088bf" stroke-width="0.8"/>
<rect x="298.1" y="422.1" width="148.39999999999998" height="129.10000000000002" fill="none" stroke="#2a2a2a" stroke-width="1.2"/>
<line x1="293.6" y1="422.1" x2="298.1" y2="422.1" stroke="#2a2a2a" stroke-width="1.2"/>
<text x="292.6" y="425.00" font-size="9.8" text-anchor="end" fill="#222">10</text>
<line x1="293.6" y1="454.4" x2="298.1" y2="454.4" stroke="#2a2a2a" stroke-width="1.2"/>
<text x="291.0" y="457.30" font-size="9.8" text-anchor="end" fill="#222">8</text>
<line x1="293.6" y1="486.7" x2="298.1" y2="486.7" stroke="#2a2a2a" stroke-width="1.2"/>
<text x="291.0" y="489.60" font-size="9.8" text-anchor="end" fill="#222">6</text>
<line x1="293.6" y1="518.9" x2="298.1" y2="518.9" stroke="#2a2a2a" stroke-width="1.2"/>
<text x="291.0" y="521.80" font-size="9.8" text-anchor="end" fill="#222">4</text>
<line x1="293.6" y1="551.2" x2="298.1" y2="551.2" stroke="#2a2a2a" stroke-width="1.2"/>
<text x="291.0" y="554.10" font-size="9.8" text-anchor="end" fill="#222">2</text>
<line x1="322.2" y1="551.2" x2="322.2" y2="555.2" stroke="#2a2a2a" stroke-width="1.1"/>
<line x1="372.1" y1="551.2" x2="372.1" y2="555.2" stroke="#2a2a2a" stroke-width="1.1"/>
<line x1="421.2" y1="551.2" x2="421.2" y2="555.2" stroke="#2a2a2a" stroke-width="1.1"/>
<text x="323.1" y="566.2" font-size="9.7" text-anchor="middle" fill="#222">D5</text>
<text x="372.6" y="566.2" font-size="9.7" text-anchor="middle" fill="#222">D9</text>
<text x="424.5" y="566.2" font-size="9.7" text-anchor="middle" fill="#222">D13</text>
<text x="372.4" y="577.9" font-size="9.7" text-anchor="middle" fill="#222">Day</text>
<text transform="translate(277.4,483.3) rotate(-90)" font-size="9.2" text-anchor="middle" fill="#222">Blood K<tspan font-size="5.52" dy="-3.5">+</tspan><tspan dy="3.5"> (mmol/L)</tspan></text>
<line x1="301.9" y1="440.5" x2="331.6" y2="440.5" stroke="#3a3a3a" stroke-width="1.0"/>
<text x="303.50" y="436.80" fill="#222"><tspan font-style="italic" font-size="6.1">p</tspan><tspan font-size="6.3" dx="0.3"> = 0.0003</tspan></text>
<line x1="313.2" y1="453.5" x2="330.6" y2="453.5" stroke="#3a3a3a" stroke-width="1.0"/>
<text x="307.70" y="450.60" fill="#222"><tspan font-style="italic" font-size="6.1">p</tspan><tspan font-size="6.3" dx="0.3"> = 0.7983</tspan></text>
<line x1="351.8" y1="440.5" x2="382.1" y2="440.5" stroke="#3a3a3a" stroke-width="1.0"/>
<text x="352.80" y="436.80" fill="#222"><tspan font-style="italic" font-size="6.1">p</tspan><tspan font-size="6.3" dx="0.3"> = 0.9983</tspan></text>
<line x1="363.9" y1="453.5" x2="381.1" y2="453.5" stroke="#3a3a3a" stroke-width="1.0"/>
<text x="357.20" y="450.70" fill="#222"><tspan font-style="italic" font-size="6.1">p</tspan><tspan font-size="6.3" dx="-0.2"> &lt; 0.0001</tspan></text>
<line x1="401.8" y1="440.5" x2="432.0" y2="440.5" stroke="#3a3a3a" stroke-width="1.0"/>
<text x="402.90" y="436.80" fill="#222"><tspan font-style="italic" font-size="6.1">p</tspan><tspan font-size="6.3" dx="-0.2"> &gt; 0.9999</tspan></text>
<line x1="413.1" y1="453.5" x2="431.0" y2="453.5" stroke="#3a3a3a" stroke-width="1.0"/>
<text x="407.50" y="450.70" fill="#222"><tspan font-style="italic" font-size="6.1">p</tspan><tspan font-size="6.3" dx="-0.2"> &lt; 0.0001</tspan></text>
<line x1="305.4" y1="536.5" x2="316.7" y2="536.5" stroke="#3a3a3a" stroke-width="1.0"/>
<text x="303.50" y="534.10" fill="#222"><tspan font-style="italic" font-size="6.1">p</tspan><tspan font-size="6.3" dx="-0.2"> &lt; 0.0001</tspan></text>
<line x1="354.4" y1="531.5" x2="366.5" y2="531.5" stroke="#3a3a3a" stroke-width="1.0"/>
<text x="353.70" y="528.70" fill="#222"><tspan font-style="italic" font-size="6.1">p</tspan><tspan font-size="6.3" dx="-0.2"> &lt; 0.0001</tspan></text>
<line x1="379.3" y1="547.5" x2="391.4" y2="547.5" stroke="#3a3a3a" stroke-width="1.0"/>
<text x="369.20" y="544.10" fill="#222"><tspan font-style="italic" font-size="6.1">p</tspan><tspan font-size="6.3" dx="0.3"> = 0.9938</tspan></text>
<line x1="403.1" y1="533.5" x2="415.2" y2="533.5" stroke="#3a3a3a" stroke-width="1.0"/>
<text x="402.30" y="530.30" fill="#222"><tspan font-style="italic" font-size="6.1">p</tspan><tspan font-size="6.3" dx="-0.2"> &lt; 0.0001</tspan></text>
<line x1="429.0" y1="547.5" x2="441.0" y2="547.5" stroke="#3a3a3a" stroke-width="1.0"/>
<text x="417.00" y="545.50" fill="#222"><tspan font-style="italic" font-size="6.1">p</tspan><tspan font-size="6.3" dx="0.3"> = 0.0807</tspan></text>
<text transform="translate(480.6,417.7) scale(0.93,1)" font-size="13.9" font-weight="bold" fill="#111">i</text>
<rect x="535.50" y="490.75" width="6.00" height="60.05" fill="#a3a4a5" stroke="#6e6f70" stroke-width="0.9"/>
<path d="M538.5,483.2 V497.4 M537.0,483.2 H540.0 M537.0,497.4 H540.0" stroke="#6e6f70" stroke-width="0.8" fill="none"/>
<circle cx="537.9" cy="478.2" r="1.55" fill="#fff" stroke="#6e6f70" stroke-width="0.8"/>
<circle cx="537.9" cy="483.4" r="1.55" fill="#fff" stroke="#6e6f70" stroke-width="0.8"/>
<circle cx="537.9" cy="493.8" r="1.55" fill="#fff" stroke="#6e6f70" stroke-width="0.8"/>
<circle cx="537.9" cy="504.1" r="1.55" fill="#fff" stroke="#6e6f70" stroke-width="0.8"/>
<rect x="543.60" y="512.85" width="6.00" height="37.95" fill="#a8cfbb" stroke="#5ea77f" stroke-width="0.9"/>
<path d="M546.6,503.4 V520.0 M545.1,503.4 H548.1 M545.1,520.0 H548.1" stroke="#5ea77f" stroke-width="0.8" fill="none"/>
<circle cx="546.3" cy="489.0" r="1.55" fill="#fff" stroke="#5ea77f" stroke-width="0.8"/>
<circle cx="544.6" cy="514.5" r="1.55" fill="#fff" stroke="#5ea77f" stroke-width="0.8"/>
<circle cx="548.4" cy="514.5" r="1.55" fill="#fff" stroke="#5ea77f" stroke-width="0.8"/>
<circle cx="546.3" cy="529.7" r="1.55" fill="#fff" stroke="#5ea77f" stroke-width="0.8"/>
<rect x="552.10" y="516.55" width="6.00" height="34.25" fill="#9fc1d7" stroke="#5f9bc4" stroke-width="0.9"/>
<path d="M555.1,512.4 V519.8 M553.6,512.4 H556.6 M553.6,519.8 H556.6" stroke="#5f9bc4" stroke-width="0.8" fill="none"/>
<circle cx="552.8" cy="509.7" r="1.55" fill="#fff" stroke="#5f9bc4" stroke-width="0.8"/>
<circle cx="556.3" cy="509.7" r="1.55" fill="#fff" stroke="#5f9bc4" stroke-width="0.8"/>
<circle cx="554.9" cy="520.0" r="1.55" fill="#fff" stroke="#5f9bc4" stroke-width="0.8"/>
<circle cx="554.9" cy="524.8" r="1.55" fill="#fff" stroke="#5f9bc4" stroke-width="0.8"/>
<rect x="560.50" y="508.75" width="6.00" height="42.05" fill="#e7a0a3" stroke="#d9636b" stroke-width="0.9"/>
<path d="M563.5,505.1 V511.5 M562.0,505.1 H565.0 M562.0,511.5 H565.0" stroke="#d9636b" stroke-width="0.8" fill="none"/>
<circle cx="563.6" cy="499.0" r="1.55" fill="#fff" stroke="#d9636b" stroke-width="0.8"/>
<circle cx="563.6" cy="509.0" r="1.55" fill="#fff" stroke="#d9636b" stroke-width="0.8"/>
<circle cx="563.6" cy="514.5" r="1.55" fill="#fff" stroke="#d9636b" stroke-width="0.8"/>
<circle cx="563.6" cy="512.0" r="1.55" fill="#fff" stroke="#d9636b" stroke-width="0.8"/>
<rect x="568.90" y="510.55" width="6.00" height="40.25" fill="#b0b3d4" stroke="#8088bf" stroke-width="0.9"/>
<path d="M571.9,502.8 V517.4 M570.4,502.8 H573.4 M570.4,517.4 H573.4" stroke="#8088bf" stroke-width="0.8" fill="none"/>
<circle cx="571.9" cy="493.8" r="1.55" fill="#fff" stroke="#8088bf" stroke-width="0.8"/>
<circle cx="571.9" cy="504.1" r="1.55" fill="#fff" stroke="#8088bf" stroke-width="0.8"/>
<circle cx="571.9" cy="514.5" r="1.55" fill="#fff" stroke="#8088bf" stroke-width="0.8"/>
<circle cx="571.9" cy="524.8" r="1.55" fill="#fff" stroke="#8088bf" stroke-width="0.8"/>
<rect x="584.60" y="491.25" width="6.00" height="59.55" fill="#a3a4a5" stroke="#6e6f70" stroke-width="0.9"/>
<path d="M587.6,488.0 V493.6 M586.1,488.0 H589.1 M586.1,493.6 H589.1" stroke="#6e6f70" stroke-width="0.8" fill="none"/>
<circle cx="587.3" cy="483.4" r="1.55" fill="#fff" stroke="#6e6f70" stroke-width="0.8"/>
<circle cx="585.7" cy="493.5" r="1.55" fill="#fff" stroke="#6e6f70" stroke-width="0.8"/>
<circle cx="589.4" cy="493.5" r="1.55" fill="#fff" stroke="#6e6f70" stroke-width="0.8"/>
<circle cx="587.3" cy="489.0" r="1.55" fill="#fff" stroke="#6e6f70" stroke-width="0.8"/>
<rect x="592.90" y="520.45" width="6.00" height="30.35" fill="#a8cfbb" stroke="#5ea77f" stroke-width="0.9"/>
<path d="M595.9,516.4 V523.6 M594.4,516.4 H597.4 M594.4,523.6 H597.4" stroke="#5ea77f" stroke-width="0.8" fill="none"/>
<circle cx="596.0" cy="509.7" r="1.55" fill="#fff" stroke="#5ea77f" stroke-width="0.8"/>
<circle cx="594.3" cy="521.4" r="1.55" fill="#fff" stroke="#5ea77f" stroke-width="0.8"/>
<circle cx="597.8" cy="521.4" r="1.55" fill="#fff" stroke="#5ea77f" stroke-width="0.8"/>
<circle cx="596.0" cy="525.2" r="1.55" fill="#fff" stroke="#5ea77f" stroke-width="0.8"/>
<rect x="601.40" y="493.55" width="6.00" height="57.25" fill="#9fc1d7" stroke="#5f9bc4" stroke-width="0.9"/>
<path d="M604.4,491.0 V495.2 M602.9,491.0 H605.9 M602.9,495.2 H605.9" stroke="#5f9bc4" stroke-width="0.8" fill="none"/>
<circle cx="603.9" cy="489.0" r="1.55" fill="#fff" stroke="#5f9bc4" stroke-width="0.8"/>
<circle cx="602.5" cy="493.1" r="1.55" fill="#fff" stroke="#5f9bc4" stroke-width="0.8"/>
<circle cx="606.0" cy="493.1" r="1.55" fill="#fff" stroke="#5f9bc4" stroke-width="0.8"/>
<circle cx="603.9" cy="504.1" r="1.55" fill="#fff" stroke="#5f9bc4" stroke-width="0.8"/>
<rect x="609.90" y="493.55" width="6.00" height="57.25" fill="#e7a0a3" stroke="#d9636b" stroke-width="0.9"/>
<path d="M612.9,489.7 V496.5 M611.4,489.7 H614.4 M611.4,496.5 H614.4" stroke="#d9636b" stroke-width="0.8" fill="none"/>
<circle cx="612.7" cy="483.5" r="1.55" fill="#fff" stroke="#d9636b" stroke-width="0.8"/>
<circle cx="611.0" cy="493.1" r="1.55" fill="#fff" stroke="#d9636b" stroke-width="0.8"/>
<circle cx="614.4" cy="493.1" r="1.55" fill="#fff" stroke="#d9636b" stroke-width="0.8"/>
<circle cx="612.7" cy="499.0" r="1.55" fill="#fff" stroke="#d9636b" stroke-width="0.8"/>
<rect x="618.20" y="480.45" width="6.00" height="70.35" fill="#b0b3d4" stroke="#8088bf" stroke-width="0.9"/>
<path d="M621.2,478.0 V482.0 M619.7,478.0 H622.7 M619.7,482.0 H622.7" stroke="#8088bf" stroke-width="0.8" fill="none"/>
<circle cx="621.0" cy="473.1" r="1.55" fill="#fff" stroke="#8088bf" stroke-width="0.8"/>
<circle cx="621.0" cy="478.0" r="1.55" fill="#fff" stroke="#8088bf" stroke-width="0.8"/>
<circle cx="619.3" cy="483.5" r="1.55" fill="#fff" stroke="#8088bf" stroke-width="0.8"/>
<circle cx="622.8" cy="483.5" r="1.55" fill="#fff" stroke="#8088bf" stroke-width="0.8"/>
<rect x="633.70" y="479.75" width="6.00" height="71.05" fill="#a3a4a5" stroke="#6e6f70" stroke-width="0.9"/>
<path d="M636.7,472.4 V486.2 M635.2,472.4 H638.2 M635.2,486.2 H638.2" stroke="#6e6f70" stroke-width="0.8" fill="none"/>
<circle cx="634.8" cy="468.0" r="1.55" fill="#fff" stroke="#6e6f70" stroke-width="0.8"/>
<circle cx="638.6" cy="468.0" r="1.55" fill="#fff" stroke="#6e6f70" stroke-width="0.8"/>
<circle cx="634.8" cy="488.6" r="1.55" fill="#fff" stroke="#6e6f70" stroke-width="0.8"/>
<circle cx="638.6" cy="488.6" r="1.55" fill="#fff" stroke="#6e6f70" stroke-width="0.8"/>
<rect x="642.40" y="505.45" width="6.00" height="45.35" fill="#a8cfbb" stroke="#5ea77f" stroke-width="0.9"/>
<path d="M645.4,501.6 V508.4 M643.9,501.6 H646.9 M643.9,508.4 H646.9" stroke="#5ea77f" stroke-width="0.8" fill="none"/>
<circle cx="645.5" cy="498.6" r="1.55" fill="#fff" stroke="#5ea77f" stroke-width="0.8"/>
<circle cx="643.8" cy="502.0" r="1.55" fill="#fff" stroke="#5ea77f" stroke-width="0.8"/>
<circle cx="647.2" cy="502.0" r="1.55" fill="#fff" stroke="#5ea77f" stroke-width="0.8"/>
<circle cx="645.5" cy="514.5" r="1.55" fill="#fff" stroke="#5ea77f" stroke-width="0.8"/>
<rect x="650.50" y="485.95" width="6.00" height="64.85" fill="#9fc1d7" stroke="#5f9bc4" stroke-width="0.9"/>
<path d="M653.5,482.8 V488.2 M652.0,482.8 H655.0 M652.0,488.2 H655.0" stroke="#5f9bc4" stroke-width="0.8" fill="none"/>
<circle cx="653.8" cy="478.6" r="1.55" fill="#fff" stroke="#5f9bc4" stroke-width="0.8"/>
<circle cx="651.7" cy="485.5" r="1.55" fill="#fff" stroke="#5f9bc4" stroke-width="0.8"/>
<circle cx="655.2" cy="485.5" r="1.55" fill="#fff" stroke="#5f9bc4" stroke-width="0.8"/>
<circle cx="653.8" cy="489.0" r="1.55" fill="#fff" stroke="#5f9bc4" stroke-width="0.8"/>
<rect x="658.60" y="478.15" width="6.00" height="72.65" fill="#e7a0a3" stroke="#d9636b" stroke-width="0.9"/>
<path d="M661.6,476.0 V479.4 M660.1,476.0 H663.1 M660.1,479.4 H663.1" stroke="#d9636b" stroke-width="0.8" fill="none"/>
<circle cx="662.1" cy="473.1" r="1.55" fill="#fff" stroke="#d9636b" stroke-width="0.8"/>
<circle cx="659.6" cy="478.0" r="1.55" fill="#fff" stroke="#d9636b" stroke-width="0.8"/>
<circle cx="664.2" cy="478.0" r="1.55" fill="#fff" stroke="#d9636b" stroke-width="0.8"/>
<circle cx="662.1" cy="483.7" r="1.55" fill="#fff" stroke="#d9636b" stroke-width="0.8"/>
<rect x="667.60" y="464.85" width="6.00" height="85.95" fill="#b0b3d4" stroke="#8088bf" stroke-width="0.9"/>
<path d="M670.6,460.0 V468.8 M669.1,460.0 H672.1 M669.1,468.8 H672.1" stroke="#8088bf" stroke-width="0.8" fill="none"/>
<circle cx="670.6" cy="452.4" r="1.55" fill="#fff" stroke="#8088bf" stroke-width="0.8"/>
<circle cx="670.6" cy="458.0" r="1.55" fill="#fff" stroke="#8088bf" stroke-width="0.8"/>
<circle cx="669.0" cy="473.1" r="1.55" fill="#fff" stroke="#8088bf" stroke-width="0.8"/>
<circle cx="672.4" cy="473.1" r="1.55" fill="#fff" stroke="#8088bf" stroke-width="0.8"/>
<rect x="530.5" y="421.4" width="148.10000000000002" height="129.39999999999998" fill="none" stroke="#2a2a2a" stroke-width="1.2"/>
<line x1="526.0" y1="421.4" x2="530.5" y2="421.4" stroke="#2a2a2a" stroke-width="1.2"/>
<text x="525.3" y="424.30" font-size="9.8" text-anchor="end" fill="#222">150</text>
<line x1="526.0" y1="447.3" x2="530.5" y2="447.3" stroke="#2a2a2a" stroke-width="1.2"/>
<text x="525.3" y="450.20" font-size="9.8" text-anchor="end" fill="#222">145</text>
<line x1="526.0" y1="473.2" x2="530.5" y2="473.2" stroke="#2a2a2a" stroke-width="1.2"/>
<text x="525.3" y="476.10" font-size="9.8" text-anchor="end" fill="#222">140</text>
<line x1="526.0" y1="499.0" x2="530.5" y2="499.0" stroke="#2a2a2a" stroke-width="1.2"/>
<text x="525.3" y="501.90" font-size="9.8" text-anchor="end" fill="#222">135</text>
<line x1="526.0" y1="524.9" x2="530.5" y2="524.9" stroke="#2a2a2a" stroke-width="1.2"/>
<text x="525.3" y="527.80" font-size="9.8" text-anchor="end" fill="#222">130</text>
<line x1="526.0" y1="550.8" x2="530.5" y2="550.8" stroke="#2a2a2a" stroke-width="1.2"/>
<text x="525.3" y="553.70" font-size="9.8" text-anchor="end" fill="#222">125</text>
<line x1="554.9" y1="550.8" x2="554.9" y2="554.8" stroke="#2a2a2a" stroke-width="1.1"/>
<line x1="604.1" y1="550.8" x2="604.1" y2="554.8" stroke="#2a2a2a" stroke-width="1.1"/>
<line x1="653.4" y1="550.8" x2="653.4" y2="554.8" stroke="#2a2a2a" stroke-width="1.1"/>
<text x="555.4" y="563.8" font-size="9.7" text-anchor="middle" fill="#222">D5</text>
<text x="604.6" y="563.8" font-size="9.7" text-anchor="middle" fill="#222">D9</text>
<text x="654.3" y="563.8" font-size="9.7" text-anchor="middle" fill="#222">D13</text>
<text x="604.7" y="575.2" font-size="9.7" text-anchor="middle" fill="#222">Day</text>
<text transform="translate(504.9,480.3) rotate(-90)" font-size="9.4" text-anchor="middle" fill="#222">Blood Na<tspan font-size="5.64" dy="-3.5">+</tspan><tspan dy="3.5"> (mmol/L)</tspan></text>
<line x1="533.2" y1="441.5" x2="571.9" y2="441.5" stroke="#3a3a3a" stroke-width="1.0"/>
<text x="534.70" y="437.70" fill="#222"><tspan font-style="italic" font-size="6.1">p</tspan><tspan font-size="6.3" dx="0.3"> = 0.0360</tspan></text>
<line x1="533.2" y1="453.5" x2="562.8" y2="453.5" stroke="#3a3a3a" stroke-width="1.0"/>
<text x="534.70" y="449.70" fill="#222"><tspan font-style="italic" font-size="6.1">p</tspan><tspan font-size="6.3" dx="0.3"> = 0.0583</tspan></text>
<line x1="544.8" y1="466.5" x2="561.8" y2="466.5" stroke="#3a3a3a" stroke-width="1.0"/>
<text x="539.00" y="463.90" fill="#222"><tspan font-style="italic" font-size="6.1">p</tspan><tspan font-size="6.3" dx="0.3"> = 0.9751</tspan></text>
<line x1="582.5" y1="441.5" x2="621.8" y2="441.5" stroke="#3a3a3a" stroke-width="1.0"/>
<text x="583.90" y="437.70" fill="#222"><tspan font-style="italic" font-size="6.1">p</tspan><tspan font-size="6.3" dx="0.3"> = 0.5135</tspan></text>
<line x1="582.5" y1="453.5" x2="611.7" y2="453.5" stroke="#3a3a3a" stroke-width="1.0"/>
<text x="583.90" y="449.70" fill="#222"><tspan font-style="italic" font-size="6.1">p</tspan><tspan font-size="6.3" dx="0.3"> = 0.9751</tspan></text>
<line x1="594.0" y1="466.5" x2="610.8" y2="466.5" stroke="#3a3a3a" stroke-width="1.0"/>
<text x="588.20" y="463.90" fill="#222"><tspan font-style="italic" font-size="6.1">p</tspan><tspan font-size="6.3" dx="0.3"> = 0.0023</tspan></text>
<line x1="632.0" y1="437.5" x2="673.1" y2="437.5" stroke="#3a3a3a" stroke-width="1.0"/>
<text x="633.50" y="434.50" fill="#222"><tspan font-style="italic" font-size="6.1">p</tspan><tspan font-size="6.3" dx="0.3"> = 0.2053</tspan></text>
<line x1="632.0" y1="450.5" x2="661.4" y2="450.5" stroke="#3a3a3a" stroke-width="1.0"/>
<text x="633.50" y="447.30" fill="#222"><tspan font-style="italic" font-size="6.1">p</tspan><tspan font-size="6.3" dx="-0.2"> &gt; 0.9999</tspan></text>
<line x1="643.0" y1="463.5" x2="660.7" y2="463.5" stroke="#3a3a3a" stroke-width="1.0"/>
<text x="638.00" y="461.10" fill="#222"><tspan font-style="italic" font-size="6.1">p</tspan><tspan font-size="6.3" dx="0.3"> = 0.0023</tspan></text>
<line x1="537.4" y1="538.5" x2="548.7" y2="538.5" stroke="#3a3a3a" stroke-width="1.0"/>
<text x="535.60" y="534.90" fill="#222"><tspan font-style="italic" font-size="6.1">p</tspan><tspan font-size="6.3" dx="0.3"> = 0.0127</tspan></text>
<line x1="585.9" y1="538.5" x2="598.3" y2="538.5" stroke="#3a3a3a" stroke-width="1.0"/>
<text x="584.90" y="534.90" fill="#222"><tspan font-style="italic" font-size="6.1">p</tspan><tspan font-size="6.3" dx="0.3"> = 0.0004</tspan></text>
<line x1="611.6" y1="545.5" x2="623.6" y2="545.5" stroke="#3a3a3a" stroke-width="1.0"/>
<text x="601.40" y="542.90" fill="#222"><tspan font-style="italic" font-size="6.1">p</tspan><tspan font-size="6.3" dx="0.3"> = 0.2053</tspan></text>
<line x1="636.2" y1="531.5" x2="648.6" y2="531.5" stroke="#3a3a3a" stroke-width="1.0"/>
<text x="635.90" y="528.30" fill="#222"><tspan font-style="italic" font-size="6.1">p</tspan><tspan font-size="6.3" dx="0.3"> = 0.0023</tspan></text>
<line x1="661.0" y1="545.5" x2="672.8" y2="545.5" stroke="#3a3a3a" stroke-width="1.0"/>
<text x="648.50" y="542.90" fill="#222"><tspan font-style="italic" font-size="6.1">p</tspan><tspan font-size="6.3" dx="0.3"> = 0.2053</tspan></text>
</svg>
</body></html>
